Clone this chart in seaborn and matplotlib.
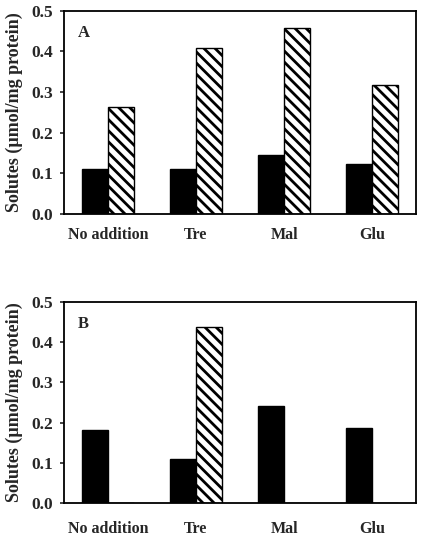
import numpy as np
import pandas as pd
import matplotlib
matplotlib.use('Agg')
import matplotlib.pyplot as plt
import seaborn as sns

categories = ['No addition', 'Tre', 'Mal', 'Glu']
series = ['solid', 'hatched']
a_solid = [0.110, 0.112, 0.145, 0.123]
a_hatched = [0.263, 0.408, 0.458, 0.318]
b_solid = [0.182, 0.109, 0.241, 0.187]
b_hatched = [0.0, 0.437, 0.0, 0.0]

sns.set_style('ticks')
plt.rcParams['font.family'] = ['Liberation Serif', 'DejaVu Serif']
plt.rcParams['font.weight'] = 'bold'
plt.rcParams['hatch.linewidth'] = 2.0
plt.rcParams['hatch.color'] = 'black'

fig = plt.figure(figsize=(4.29, 5.38), dpi=100)
ax_a = fig.add_axes([0.149, 0.602, 0.821, 0.378])
ax_b = fig.add_axes([0.149, 0.065, 0.821, 0.374])


def make_df(solid, hatched):
    return pd.DataFrame({
        'cat': categories * 2,
        'kind': [series[0]] * 4 + [series[1]] * 4,
        'val': solid + hatched,
    })


def draw(ax, df, letter, pad):
    sns.barplot(data=df, x='cat', y='val', hue='kind', order=categories,
                hue_order=series, palette=['black', 'white'], edgecolor='black',
                linewidth=1.0, width=0.59, gap=0, ax=ax, legend=False)
    for p in ax.containers[1]:
        p.set_hatch('\\\\\\')
    ax.set_ylim(0, 0.5)
    ax.set_yticks([0, 0.1, 0.2, 0.3, 0.4, 0.5])
    ax.set_yticklabels(['0.0', '0.1', '0.2', '0.3', '0.4', '0.5'],
                       fontsize=12.5, fontweight='bold')
    ax.set_xticks(range(4))
    ax.set_xticklabels(categories, fontsize=11.5, fontweight='bold')
    ax.tick_params(axis='x', length=0, pad=pad)
    ax.tick_params(axis='y', length=3, width=1.2, direction='out', pad=5)
    ax.set_xlabel('')
    ax.set_ylabel('Solutes (\u00b5mol/mg protein)', fontsize=13, fontweight='bold',
                  labelpad=6)
    for s in ax.spines.values():
        s.set_visible(True)
        s.set_linewidth(1.3)
        s.set_color('black')
    ax.text(0.04, 0.89, letter, transform=ax.transAxes, fontsize=12,
            fontweight='bold', va='center')


draw(ax_a, make_df(a_solid, a_hatched), 'A', 9)
draw(ax_b, make_df(b_solid, b_hatched), 'B', 13)

fig.savefig('out.png', dpi=100)
